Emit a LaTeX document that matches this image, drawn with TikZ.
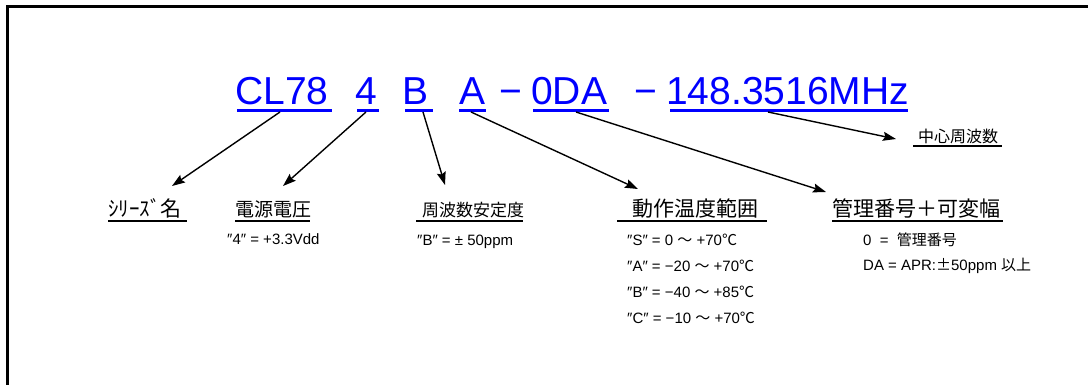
\documentclass[tikz,border=0pt]{standalone}
\usepackage{fontspec}
\setmainfont{Liberation Sans}
\newfontfamily\jp{Noto Sans CJK JP}
\usetikzlibrary{arrows.meta}
\definecolor{tblue}{RGB}{0,0,255}
\begin{document}
\begin{tikzpicture}[x=1pt,y=-1pt,
  title/.style={anchor=base west,inner sep=0pt,text=tblue,font=\fontsize{39}{39}\selectfont},
  uline/.style={draw=tblue,line width=3pt},
  lbl/.style={anchor=base west,inner sep=0pt,font=\jp\fontsize{#1}{#1}\selectfont},
  lline/.style={draw,line width=2pt},
  small/.style={anchor=base west,inner sep=0pt,font=\fontsize{15}{15}\selectfont},
  conn/.style={draw,line width=1.4pt,-{Stealth[length=13pt,width=9pt,inset=2pt]}},
  ]
\useasboundingbox (0,0) rectangle (1088,385);
\fill[white] (0,0) rectangle (1088,385);
\draw[line width=3pt] (7.5,386)--(7.5,6.5)--(1089,6.5);

% title
\node[title] (cl) at (235,105) {CL78};
\node[title] (v4) at (355,105) {4};
\node[title] (bb) at (402,105) {B};
\node[title] (aa) at (459,105) {A};
\node[title] (d1) at (499,105) {−};
\node[title] (oda) at (531,105) {0DA};
\node[title] (d2) at (634,105) {−};
\node[title] (ff) at (666,105) {148.3516MHz};
\draw[uline] (237,110.5)--(332,110.5);
\draw[uline] (357,110.5)--(379,110.5);
\draw[uline] (405,110.5)--(433,110.5);
\draw[uline] (459,110.5)--(486,110.5);
\draw[uline] (533,110.5)--(609,110.5);
\draw[uline] (670,110.5)--(908,110.5);

% labels
\node[lbl=21] (series) at (108,217) {ｼﾘｰｽﾞ名};
\draw[lline] (108,221.5)--(187,221.5);
\node[lbl=19] (volt) at (235,217) {電源電圧};
\draw[lline] (235,221.5)--(310,221.5);
\node[lbl=17] (stab) at (422,217) {周波数安定度};
\draw[lline] (416,221.5)--(523,221.5);
\node[lbl=21] (temp) at (632,216) {動作温度範囲};
\draw[lline] (617,221.5)--(767,221.5);
\node[lbl=21] (ctrl) at (832,216) {管理番号＋可変幅};
\draw[lline] (832,221.5)--(1003,221.5);
\node[lbl=16] (cf) at (918,143) {中心周波数};
\draw[line width=1.5pt] (913,146)--(1002,146);

% details
\node[small] (vt) at (227,244) {″4″ = +3.3Vdd};
\node[small] (bt) at (417,245) {″B″ = ± 50ppm};
\node[small] (ts) at (627,245) {″S″ = 0 {\jp ～} +70{\jp ℃}};
\node[small] (ta) at (627,271) {″A″ = −20 {\jp ～} +70{\jp ℃}};
\node[small] (tb) at (627,297) {″B″ = −40 {\jp ～} +85{\jp ℃}};
\node[small] (tc) at (627,323) {″C″ = −10 {\jp ～} +70{\jp ℃}};
\node[small] (c0) at (863,245) {0\ \ =\ \ {\jp 管理番号}};
\node[small] (cda) at (863,270) {DA = APR:{\jp ±}50ppm {\jp 以上}};

% connectors
\coordinate (s1) at (280,112); \coordinate (e1) at (172,186);
\coordinate (s2) at (366,112); \coordinate (e2) at (283,186);
\coordinate (s3) at (423,112); \coordinate (e3) at (445,185);
\coordinate (s4) at (471,112); \coordinate (e4) at (638,189);
\coordinate (s5) at (576,112); \coordinate (e5) at (826,192);
\coordinate (s6) at (768,112); \coordinate (e6) at (896,139);
\draw[conn] (s1)--(e1);
\draw[conn] (s2)--(e2);
\draw[conn] (s3)--(e3);
\draw[conn] (s4)--(e4);
\draw[conn] (s5)--(e5);
\draw[conn] (s6)--(e6);
\end{tikzpicture}
\end{document}
